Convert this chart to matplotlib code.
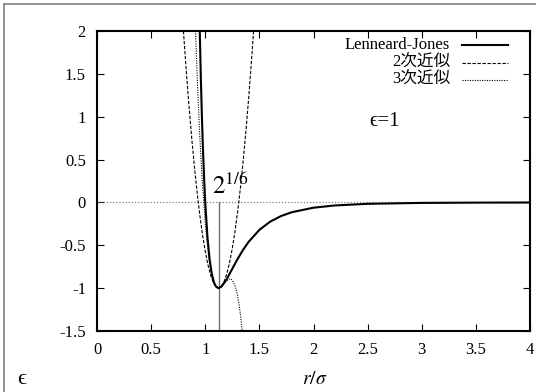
"""Lennard-Jones potential with 2nd and 3rd order expansions around the minimum."""
import matplotlib
matplotlib.use('Agg')
import matplotlib.pyplot as plt
from matplotlib.lines import Line2D

SERIF = ['Liberation Serif', 'DejaVu Serif', 'DejaVu Sans']
JP = ['Liberation Serif', 'Noto Sans CJK JP']

# Lennard-Jones curve, values (epsilon = sigma = 1)
lj_r = [0.9493, 0.95, 0.96, 0.97, 0.98, 0.99, 1.0, 1.02, 1.04, 1.06, 1.08,
        1.10, 1.1225, 1.15, 1.2, 1.25, 1.3, 1.35, 1.4, 1.5, 1.6, 1.7, 1.8,
        2.0, 2.2, 2.5, 3.0, 3.5, 4.0]
lj_v = [2.0, 1.961, 1.418, 0.963, 0.582, 0.264, 0.0, -0.398, -0.663, -0.832,
        -0.932, -0.983, -1.0, -0.982, -0.891, -0.774, -0.657, -0.552, -0.461,
        -0.320, -0.224, -0.159, -0.114, -0.0615, -0.035, -0.0163, -0.0055,
        -0.0022, -0.001]

# 2nd order approximation
q_r = [0.7984, 0.825, 0.85, 0.875, 0.9, 0.925, 0.95, 0.975, 1.0, 1.025, 1.05,
       1.075, 1.1, 1.1225, 1.15, 1.175, 1.2, 1.225, 1.25, 1.275, 1.3, 1.325,
       1.35, 1.375, 1.4, 1.425, 1.4465]
q_v = [2.0, 1.528, 1.121, 0.750, 0.414, 0.114, -0.150, -0.379, -0.572, -0.729,
       -0.850, -0.936, -0.986, -1.0, -0.978, -0.921, -0.828, -0.700, -0.535,
       -0.335, -0.099, 0.172, 0.479, 0.822, 1.201, 1.615, 2.0]

# 3rd order approximation
c_r = [0.91, 0.93, 0.95, 0.97, 1.0, 1.03, 1.06, 1.09, 1.1225, 1.15, 1.18,
       1.21, 1.23, 1.25, 1.28, 1.295, 1.31, 1.325, 1.342]
c_v = [2.0, 1.329, 0.764, 0.296, -0.244, -0.615, -0.845, -0.964, -1.0, -0.982,
       -0.939, -0.900, -0.891, -0.905, -0.988, -1.065, -1.170, -1.308, -1.508]

r_min = 1.1225
x_ticks = [0, 0.5, 1, 1.5, 2, 2.5, 3, 3.5, 4]
y_ticks = [-1.5, -1, -0.5, 0, 0.5, 1, 1.5, 2]
labels = ['Lenneard-Jones', '2次近似', '3次近似']

W, H = 536, 392
fig = plt.figure(figsize=(W / 100, H / 100), dpi=100)
ax = fig.add_axes([97 / W, 1 - 331 / H, (530 - 97) / W, 300 / H])

ax.axhline(0, color='#808080', lw=0.9, ls=(0, (1, 1.5)))
ax.plot([r_min, r_min], [-1.5, 0], color='#707070', lw=1.0)

ax.plot(lj_r, lj_v, color='black', lw=1.5)
ax.plot(q_r, q_v, color='black', lw=0.8, ls=(0, (3, 1.5)))
ax.plot(c_r, c_v, color='black', lw=0.8, ls=(0, (1, 1.2)))

ax.set_xlim(0, 4)
ax.set_ylim(-1.5, 2)
ax.set_xticks(x_ticks)
ax.set_xticklabels([f'{t:g}' for t in x_ticks])
ax.set_yticks(y_ticks)
ax.set_yticklabels([f'{t:g}' for t in y_ticks])
ax.tick_params(direction='in', length=5, width=0.8, top=True, right=True,
               labelsize=12, pad=8, colors='black')
for lab in ax.get_xticklabels() + ax.get_yticklabels():
    lab.set_family(SERIF)
for sp in ax.spines.values():
    sp.set_linewidth(1.5)

# legend, drawn by hand in gnuplot style
styles = [dict(lw=1.5), dict(lw=0.8, ls=(0, (3, 1.5))), dict(lw=0.8, ls=(0, (1, 1.2)))]
for i, (lab, st) in enumerate(zip(labels, styles)):
    y = 1 - (45 + 17.5 * i) / H
    fig.text(450 / W, y, lab, ha='right', va='center', fontsize=12, family=JP)
    fig.add_artist(Line2D([462 / W, 508 / W], [y, y], color='black', **st))

fig.text(384 / W, 1 - 121 / H, 'ϵ=1', ha='center', va='center',
         fontsize=15, family=SERIF)
ax.text(1.065, 0.10, r'$2^{1/6}$', ha='left', va='baseline', fontsize=18,
        math_fontfamily='stix')

fig.text(315 / W, 1 - 378 / H, r'$r/\sigma$', ha='center', va='center',
         fontsize=14, math_fontfamily='stix')
fig.text(22 / W, 1 - 380 / H, 'ϵ', ha='center', va='center',
         fontsize=16, family=SERIF)

# outer frame (top and left edges visible)
fr = 4
fig.add_artist(Line2D([fr / W, 1], [1 - fr / H, 1 - fr / H], color='#808080', lw=1.2))
fig.add_artist(Line2D([fr / W, fr / W], [0, 1 - fr / H], color='#808080', lw=1.2))

fig.savefig('out.png', dpi=100)
